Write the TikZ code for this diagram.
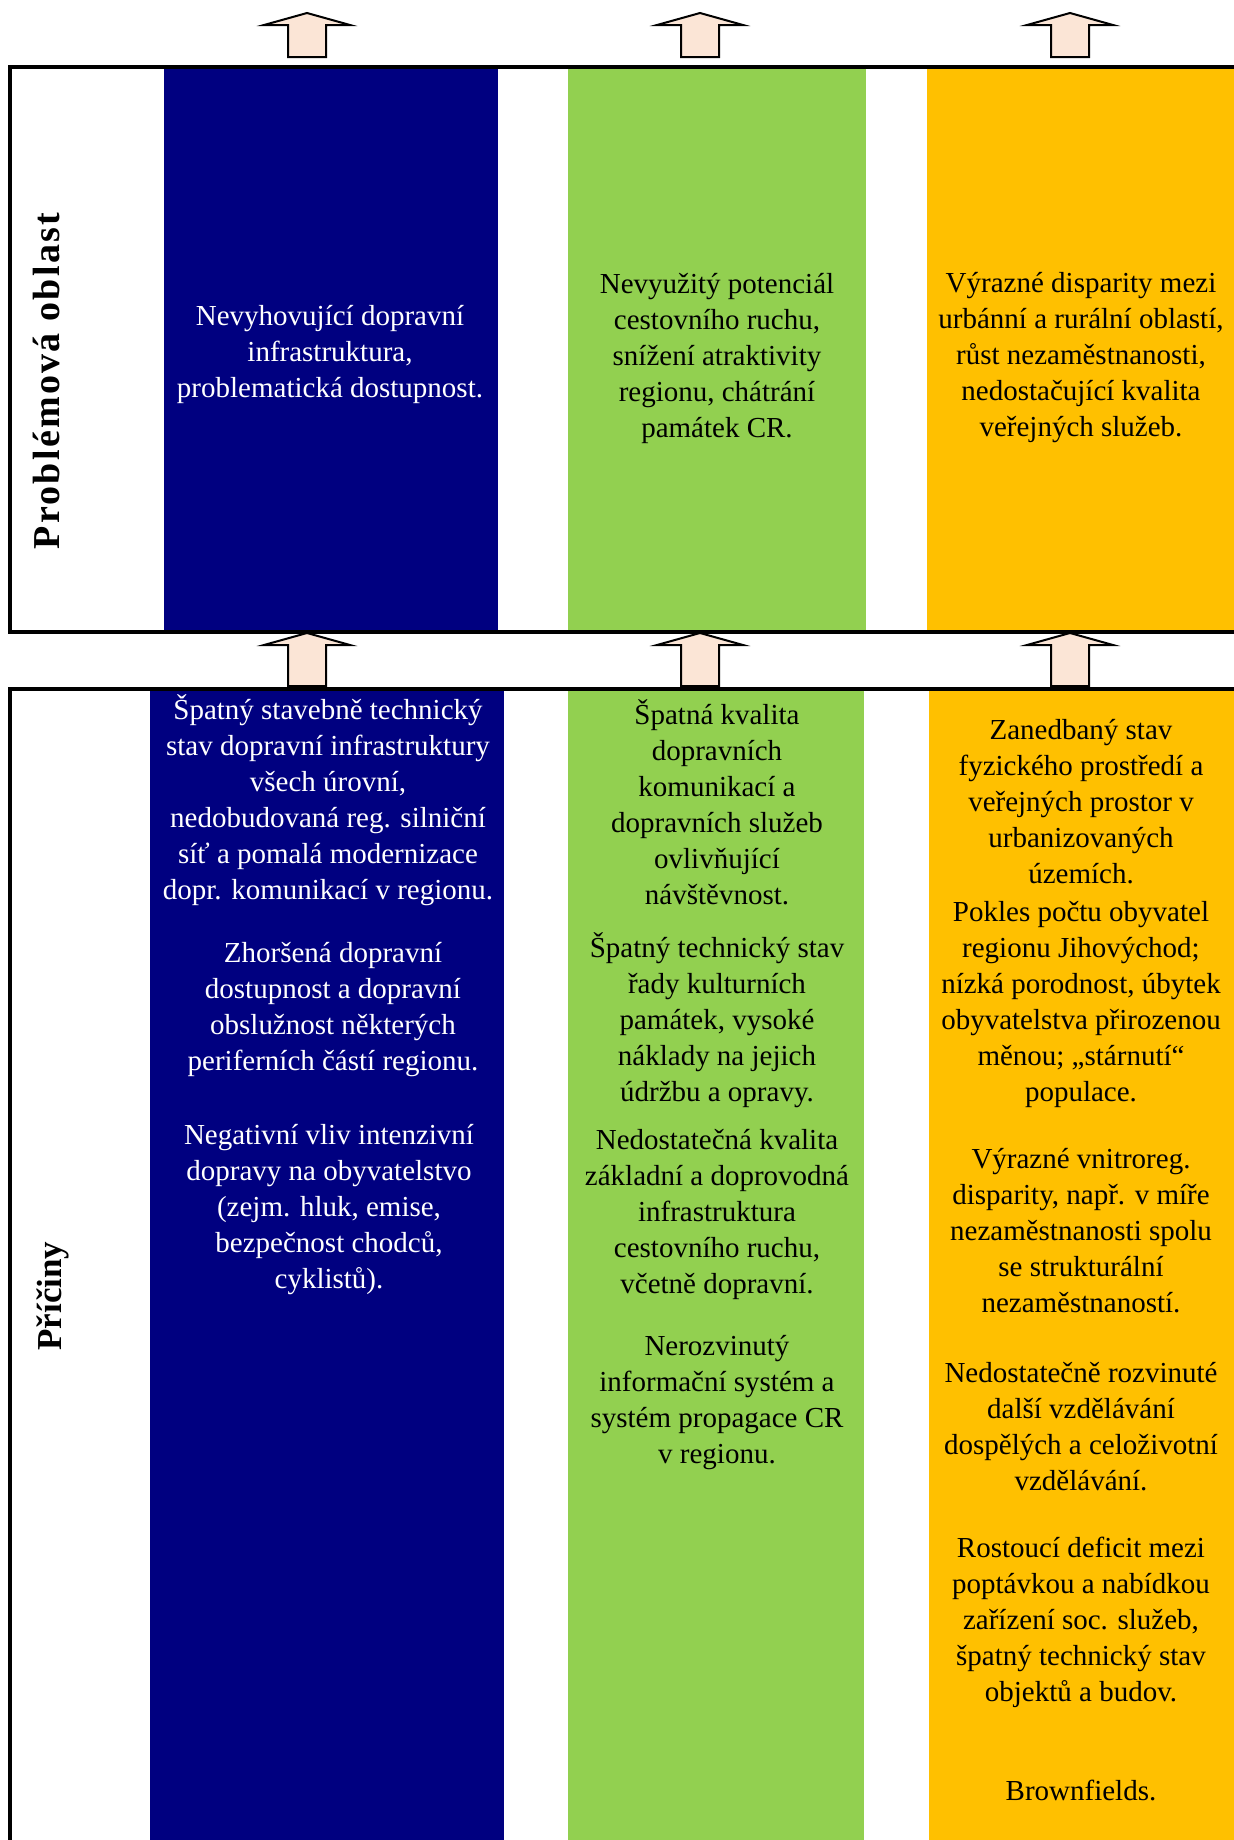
\documentclass[tikz,border=0pt]{standalone}
\usepackage{fontspec}
\setmainfont{Liberation Serif}
\definecolor{navycol}{HTML}{000080}
\definecolor{greencol}{HTML}{92D050}
\definecolor{ambercol}{HTML}{FFC000}
\definecolor{peach}{HTML}{FBE5D6}
\tikzset{
  cell/.style={align=center,inner sep=0pt,font=\fontsize{29}{36}\selectfont},
  whitecell/.style={cell,text=white},
  sidelabel/.style={rotate=90,inner sep=0pt,font=\fontsize{35}{40}\selectfont\bfseries},
  frameline/.style={line width=3.5pt},
  arrowbox/.style={draw=black,line width=2pt,fill=peach,line join=miter}
}
\newcommand{\blockarrow}[3]{%
  \draw[arrowbox] (#1,#2) -- (#1+43,#2+12) -- (#1+19,#2+12) -- (#1+19,#3)
    -- (#1-19,#3) -- (#1-19,#2+12) -- (#1-43,#2+12) -- cycle;}
\begin{document}
\begin{tikzpicture}[x=1pt,y=-1pt]
\useasboundingbox (0,0) rectangle (1234,1840);
\clip (0,0) rectangle (1234,1840);
% columns of the upper frame
\fill[navycol] (164,67) rectangle (498,632);
\fill[greencol] (568,67) rectangle (866,632);
\fill[ambercol] (927,67) rectangle (1240,632);
% columns of the lower frame
\fill[navycol] (150,689) rectangle (504,1845);
\fill[greencol] (568,689) rectangle (864,1845);
\fill[ambercol] (929,689) rectangle (1240,1845);
% frames
\draw[frameline] (1240,67) -- (10,67) -- (10,632) -- (1240,632);
\draw[frameline] (1240,689) -- (10,689) -- (10,1845);
% arrows
\foreach \ax in {307,700,1070}{
  \blockarrow{\ax}{13}{57}
  \blockarrow{\ax}{633}{686}
}
% side labels
\node[sidelabel] (problem) at (46,381) {\fontsize{38}{40}\selectfont\addfontfeature{LetterSpace=6}Problémová oblast};
\node[sidelabel] (causes) at (53,1296) {Příčiny};
% problem areas
\node[whitecell] (prob1) at (330,354) {Nevyhovující dopravní\\infrastruktura,\\problematická dostupnost.};
\node[cell] (prob2) at (717,358) {Nevyužitý potenciál\\cestovního ruchu,\\snížení atraktivity\\regionu, chátrání\\památek CR.};
\node[cell] (prob3) at (1081,358) {Výrazné disparity mezi\\urbánní a rurální oblastí,\\růst nezaměstnanosti,\\nedostačující kvalita\\veřejných služeb.};
% causes, first column
\node[whitecell] (cause1a) at (328,800) {Špatný stavebně technický\\stav dopravní infrastruktury\\všech úrovní,\\nedobudovaná reg. silniční\\síť a pomalá modernizace\\dopr. komunikací v regionu.};
\node[whitecell] (cause1b) at (333,1010) {Zhoršená dopravní\\dostupnost a dopravní\\obslužnost některých\\periferních částí regionu.};
\node[whitecell] (cause1c) at (329,1210) {Negativní vliv intenzivní\\dopravy na obyvatelstvo\\(zejm. hluk, emise,\\bezpečnost chodců,\\cyklistů).};
% causes, second column
\node[cell] (cause2a) at (717,802) {Špatná kvalita\\dopravních\\komunikací a\\dopravních služeb\\ovlivňující\\návštěvnost.};
\node[cell] (cause2b) at (717,1020) {Špatný technický stav\\řady kulturních\\památek, vysoké\\náklady na jejich\\údržbu a opravy.};
\node[cell] (cause2c) at (717,1214) {Nedostatečná kvalita\\základní a doprovodná\\infrastruktura\\cestovního ruchu,\\včetně dopravní.};
\node[cell] (cause2d) at (717,1403) {Nerozvinutý\\informační systém a\\systém propagace CR\\v regionu.};
% causes, third column
\node[cell] (cause3a) at (1081,802) {Zanedbaný stav\\fyzického prostředí a\\veřejných prostor v\\urbanizovaných\\územích.};
\node[cell] (cause3b) at (1081,1004) {Pokles počtu obyvatel\\regionu Jihovýchod;\\nízká porodnost, úbytek\\obyvatelstva přirozenou\\měnou; „stárnutí“\\populace.};
\node[cell] (cause3c) at (1081,1231) {Výrazné vnitroreg.\\disparity, např. v míře\\nezaměstnanosti spolu\\se strukturální\\nezaměstnaností.};
\node[cell] (cause3d) at (1081,1427) {Nedostatečně rozvinuté\\další vzdělávání\\dospělých a celoživotní\\vzdělávání.};
\node[cell] (cause3e) at (1081,1622) {Rostoucí deficit mezi\\poptávkou a nabídkou\\zařízení soc. služeb,\\špatný technický stav\\objektů a budov.};
\node[cell] (cause3f) at (1081,1790) {Brownfields.};
\end{tikzpicture}
\end{document}
